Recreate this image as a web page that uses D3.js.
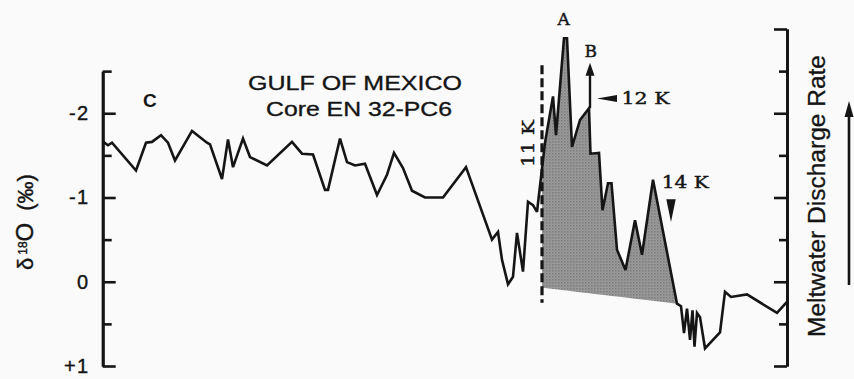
<!DOCTYPE html>
<html>
<head>
<meta charset="utf-8">
<script src="https://cdn.jsdelivr.net/npm/d3@7"></script>
<style>
  html, body { margin: 0; padding: 0; background: #fafafa; }
  svg { display: block; }
</style>
</head>
<body>
<svg id="chart" width="854" height="379"></svg>
<script>
// Core EN 32-PC6: sample position along the core (arbitrary units) and δ18O (‰)
const corePosition = [0.3, 5, 9, 33, 43, 49, 58, 65, 72, 89, 104, 107, 119, 125, 130, 140, 147, 164,
  189, 199, 210, 222, 225, 237, 244, 252, 262, 274, 284, 291, 300, 309, 322, 340, 363, 389, 395,
  399, 405, 410, 414, 420, 425, 430, 434, 442, 450, 453, 461, 464, 469, 477, 486, 487.5, 496,
  499.5, 505, 508.5, 514, 522.5, 532, 539, 550, 574, 578, 581, 584, 587, 589.5, 591.5, 594, 597,
  602, 617, 622, 628, 644, 674, 684];
const delta18O = [-1.66, -1.62, -1.65, -1.32, -1.65, -1.66, -1.74, -1.65, -1.44, -1.79, -1.65, -1.63,
  -1.22, -1.69, -1.36, -1.70, -1.48, -1.38, -1.66, -1.52, -1.51, -1.09, -1.09, -1.70, -1.42, -1.38,
  -1.40, -1.03, -1.27, -1.53, -1.35, -1.08, -1.00, -1.00, -1.36, -0.50, -0.59, -0.26, 0.03, -0.06,
  -0.58, -0.12, -0.95, -0.91, -0.83, -1.65, -2.20, -1.74, -2.89, -2.89, -1.60, -1.92, -2.06, -1.52,
  -1.53, -0.85, -1.17, -1.17, -0.38, -0.14, -0.73, -0.32, -1.21, 0.26, 0.29, 0.61, 0.32, 0.69,
  0.34, 0.77, 0.37, 0.42, 0.79, 0.60, 0.12, 0.18, 0.15, 0.37, 0.24];

// Axis ticks
const leftMajorTicks = [-2, -1, 0, 1];
const leftMinorTicks = [-2.5, -1.5, -0.5, 0.5];
const leftTickLabels = ["-2", "-1", "0", "+1"];
const rightMajorTicks = [-3, -2, -1, 0, 1];
const rightMinorTicks = [-2.5, -1.5, -0.5, 0.5];

// Meltwater episode (shaded): start/end positions and the sloping baseline values
const shadePositions = [439, 574];
const shadeBaseValues = [0.07, 0.26];

// Age markers and peak labels (position, δ18O)
const ageDashed = { label: "11 K", pos: 439, top: -2.57, bottom: 0.25 };
const peakLabels = [
  { text: "A", pos: 460.7, value: -3.05 },
  { text: "B", pos: 487.7, value: -2.67 }
];
const arrowB = { pos: 487, from: -2.06, to: -2.60 };
const mark12K = { text: "12 K", pos: 494, value: -2.175, textPos: 518.5, textValue: -2.11 };
const mark14K = { text: "14 K", pos: 568, top: -0.98, tip: -0.71, textPos: 558.7, textValue: -1.11 };

const svg = d3.select("#chart");
const SANS = "'Liberation Sans', Arial, Helvetica, sans-serif";
const SERIF = "'DejaVu Serif', 'Liberation Serif', serif";
const INK = "#151515";

const x = d3.scaleLinear().domain([0, 684]).range([103, 787]);
const y = d3.scaleLinear().domain([-3, 1]).range([29, 366]);
const yLeft = y.copy().domain([-2.5, 1]).range([y(-2.5), y(1)]);

const defs = svg.append("defs");
const pat = defs.append("pattern").attr("id", "halftone")
  .attr("width", 3).attr("height", 3).attr("patternUnits", "userSpaceOnUse");
pat.append("rect").attr("width", 3).attr("height", 3).attr("fill", "#9c9c9c");
pat.append("rect").attr("x", 0).attr("y", 0).attr("width", 1.5).attr("height", 1.5).attr("fill", "#7a7a7a");
pat.append("rect").attr("x", 1.5).attr("y", 1.5).attr("width", 1.2).attr("height", 1.2).attr("fill", "#888");

const series = corePosition.map((p, i) => ({ pos: p, v: delta18O[i] }));

// value of the series at an arbitrary position (linear between samples)
function valueAt(p) {
  const i = d3.bisector(d => d.pos).left(series, p);
  if (i <= 0) return series[0].v;
  if (i >= series.length) return series[series.length - 1].v;
  const a = series[i - 1], b = series[i];
  return a.v + (b.v - a.v) * (p - a.pos) / (b.pos - a.pos);
}

// shaded meltwater area
const base = d3.scaleLinear().domain(shadePositions).range(shadeBaseValues);
const shadeData = [{ pos: shadePositions[0], v: valueAt(shadePositions[0]) }]
  .concat(series.filter(d => d.pos > shadePositions[0] && d.pos <= shadePositions[1]));
svg.append("path")
  .datum(shadeData)
  .attr("fill", "url(#halftone)")
  .attr("d", d3.area().x(d => x(d.pos)).y0(d => y(base(d.pos))).y1(d => y(d.v)));

// dashed 11 K line
svg.append("line")
  .attr("x1", x(ageDashed.pos)).attr("x2", x(ageDashed.pos))
  .attr("y1", y(ageDashed.top)).attr("y2", y(ageDashed.bottom))
  .attr("stroke", INK).attr("stroke-width", 3.2)
  .attr("stroke-dasharray", "9,4");

// δ18O curve
svg.append("path")
  .datum(series)
  .attr("fill", "none").attr("stroke", INK).attr("stroke-width", 2.6)
  .attr("stroke-linejoin", "miter").attr("stroke-miterlimit", 3)
  .attr("d", d3.line().x(d => x(d.pos)).y(d => y(d.v)));

// Left axis (ticks pointing inward)
const gl = svg.append("g").attr("transform", `translate(${x(0) - 0.3},0)`);
gl.call(d3.axisLeft(yLeft).tickValues(leftMajorTicks).tickSize(-13).tickSizeOuter(0).tickPadding(13)
  .tickFormat((d, i) => leftTickLabels[i]));
gl.append("g").call(d3.axisLeft(yLeft).tickValues(leftMinorTicks).tickSize(-9).tickSizeOuter(0).tickFormat(""));
gl.selectAll("path.domain").attr("stroke", INK).attr("stroke-width", 2.8);
gl.selectAll(".tick line").attr("stroke", INK).attr("stroke-width", 2.6);
gl.selectAll(".tick text").attr("fill", INK).attr("stroke", INK).attr("stroke-width", 0.4)
  .style("font-family", SANS).style("font-size", "20px").attr("letter-spacing", "1.5px");

// Right axis (meltwater discharge rate, no labels)
const gr = svg.append("g").attr("transform", `translate(${x(684)},0)`);
gr.call(d3.axisRight(y).tickValues(rightMajorTicks).tickSize(-13).tickSizeOuter(0).tickFormat(""));
gr.append("g").call(d3.axisRight(y).tickValues(rightMinorTicks).tickSize(-8).tickSizeOuter(0).tickFormat(""));
gr.selectAll("path.domain").attr("stroke", INK).attr("stroke-width", 2.8);
gr.selectAll(".tick line").attr("stroke", INK).attr("stroke-width", 2.6);

// Axis titles
const yt = svg.append("text")
  .attr("transform", "translate(33,270) rotate(-90)")
  .attr("fill", INK).attr("stroke", INK).attr("stroke-width", 0.4)
  .style("font-family", SANS).style("font-size", "22px");
yt.append("tspan").text("δ");
yt.append("tspan").attr("dx", 3).attr("dy", -6).style("font-size", "12px").text("18");
yt.append("tspan").attr("dy", 6).style("font-size", "24px").text("O");
yt.append("tspan").attr("dx", 12).text("(‰)");

svg.append("text")
  .attr("transform", "translate(825,337) rotate(-90)")
  .attr("textLength", 282).attr("lengthAdjust", "spacingAndGlyphs")
  .attr("fill", INK).attr("stroke", INK).attr("stroke-width", 0.3)
  .style("font-family", SANS).style("font-size", "23px")
  .text("Meltwater Discharge Rate");

// discharge arrow
svg.append("line").attr("x1", 849).attr("x2", 849).attr("y1", 285).attr("y2", 112)
  .attr("stroke", INK).attr("stroke-width", 2.6);
svg.append("path").attr("d", "M849,101 L844.5,117 L853.5,117 Z").attr("fill", INK);

// Panel titles
svg.append("text").attr("x", 143).attr("y", 107)
  .attr("fill", INK).style("font-family", SANS).style("font-weight", "bold").style("font-size", "19px")
  .text("C");
svg.append("text").attr("x", 248).attr("y", 90)
  .attr("textLength", 214).attr("lengthAdjust", "spacingAndGlyphs")
  .attr("fill", INK).attr("stroke", INK).attr("stroke-width", 0.35)
  .style("font-family", SANS).style("font-size", "21px")
  .text("GULF OF MEXICO");
svg.append("text").attr("x", 266).attr("y", 116)
  .attr("textLength", 186).attr("lengthAdjust", "spacingAndGlyphs")
  .attr("fill", INK).attr("stroke", INK).attr("stroke-width", 0.35)
  .style("font-family", SANS).style("font-size", "21px")
  .text("Core EN 32-PC6");

// serif annotation style
function serifText(sel) {
  return sel.attr("fill", INK).attr("stroke", INK).attr("stroke-width", 0.45)
    .style("font-family", SERIF).style("font-size", "17px");
}

// 11 K label along the dashed line
serifText(svg.append("text")
  .attr("transform", `translate(${x(ageDashed.pos) - 8},167) rotate(-90)`)
  .attr("textLength", 47).attr("lengthAdjust", "spacingAndGlyphs"))
  .text(ageDashed.label);

// Peak labels
peakLabels.forEach(l => {
  serifText(svg.append("text").attr("x", x(l.pos)).attr("y", y(l.value))
    .attr("text-anchor", "middle"))
    .text(l.text);
});

// Arrow above B
svg.append("line")
  .attr("x1", x(arrowB.pos)).attr("x2", x(arrowB.pos))
  .attr("y1", y(arrowB.from)).attr("y2", y(arrowB.to) + 10)
  .attr("stroke", INK).attr("stroke-width", 2.4);
svg.append("path")
  .attr("d", `M${x(arrowB.pos)},${y(arrowB.to)} l-4.5,13 l9,0 Z`)
  .attr("fill", INK);

// 12 K marker
{
  const px = x(mark12K.pos), py = y(mark12K.value);
  svg.append("path").attr("d", `M${px},${py} L${px + 20},${py - 3.5} L${px + 20},${py + 3.5} Z`)
    .attr("fill", INK);
  serifText(svg.append("text").attr("x", x(mark12K.textPos)).attr("y", y(mark12K.textValue))
    .attr("textLength", 48).attr("lengthAdjust", "spacingAndGlyphs"))
    .text(mark12K.text);
}

// 14 K marker
{
  const px = x(mark14K.pos);
  svg.append("path")
    .attr("d", `M${px - 4.7},${y(mark14K.top)} L${px + 4.7},${y(mark14K.top)} L${px},${y(mark14K.tip)} Z`)
    .attr("fill", INK);
  serifText(svg.append("text").attr("x", x(mark14K.textPos)).attr("y", y(mark14K.textValue))
    .attr("textLength", 47).attr("lengthAdjust", "spacingAndGlyphs"))
    .text(mark14K.text);
}
</script>
</body>
</html>
